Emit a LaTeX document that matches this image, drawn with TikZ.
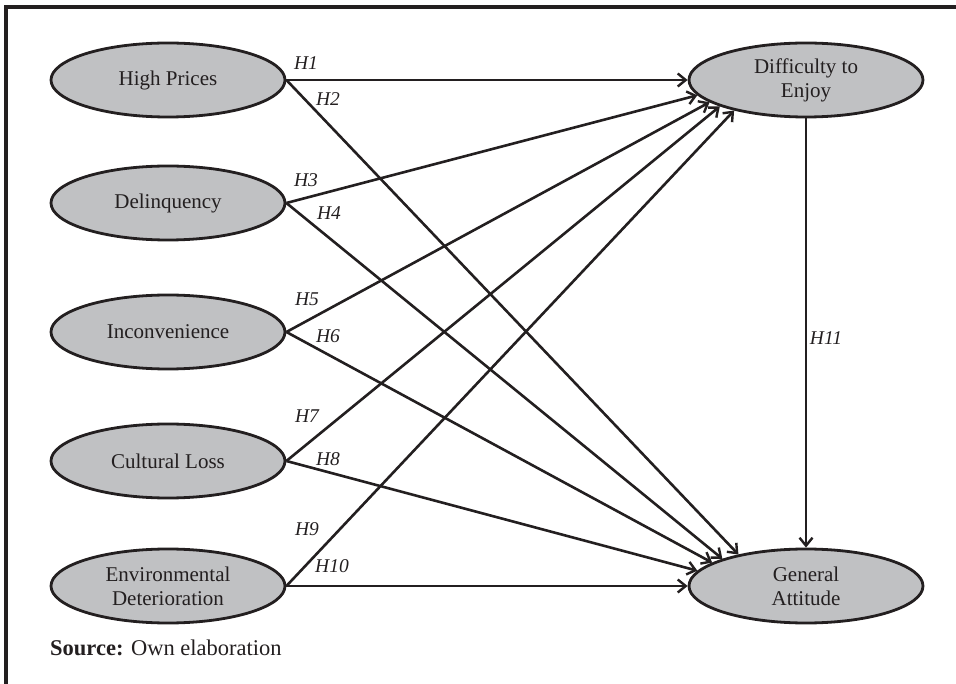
\documentclass[tikz,border=0pt]{standalone}
\usepackage{fontspec}
\setmainfont{Liberation Serif}
\usetikzlibrary{shapes.geometric,arrows.meta}
\definecolor{ovalfill}{RGB}{192,193,195}
\definecolor{ink}{RGB}{35,31,32}
\begin{document}
\begin{tikzpicture}[x=1pt,y=-1pt,
  construct/.style={ellipse,draw=ink,line width=2.8pt,fill=ovalfill,
    minimum width=234pt,minimum height=74pt,inner sep=0pt,align=center,
    font=\fontsize{21}{24}\selectfont,text=ink},
  link/.style={draw=ink,line width=2.6pt,
    -{Straight Barb[length=8pt,width=13pt,line width=2.4pt]}},
  hlabel/.style={font=\fontsize{19.5}{22}\selectfont\itshape,text=ink,inner sep=0pt}]
\useasboundingbox (0,0) rectangle (956,684);
\draw[ink,line width=4pt] (5.5,684) -- (5.5,7.5) -- (956,7.5);

\node[construct] (hp)  at (168,80)  {High Prices};
\node[construct] (del) at (168,203) {Delinquency};
\node[construct] (inc) at (168,332) {Inconvenience};
\node[construct] (cul) at (168,461) {Cultural Loss};
\node[construct] (env) at (168,586) {Environmental\\Deterioration};
\node[construct] (dte) at (806,80)  {Difficulty to\\Enjoy};
\node[construct] (ga)  at (806,586) {General\\Attitude};

\draw[link] (hp.east)  -- (dte.west);
\draw[link] (hp.east)  -- (ga.155.5);
\draw[link] (del.east) -- (dte.188.7);
\draw[link] (del.east) -- (ga.162.8);
\draw[link] (inc.east) -- (dte.193.5);
\draw[link] (inc.east) -- (ga.166.8);
\draw[link] (cul.east) -- (dte.197.8);
\draw[link] (cul.east) -- (ga.172.3);
\draw[link] (env.east) -- (dte.203.8);
\draw[link] (env.east) -- (ga.west);
\draw[link] (dte.south) -- (ga.north);

\node[hlabel] (l1)  at (306,63)  {H1};
\node[hlabel] (l2)  at (328,99)  {H2};
\node[hlabel] (l3)  at (306,180) {H3};
\node[hlabel] (l4)  at (329,213) {H4};
\node[hlabel] (l5)  at (307,299) {H5};
\node[hlabel] (l6)  at (328,336) {H6};
\node[hlabel] (l7)  at (307,416) {H7};
\node[hlabel] (l8)  at (328,459) {H8};
\node[hlabel] (l9)  at (307,529) {H9};
\node[hlabel] (l10) at (332,566) {H10};
\node[hlabel] (l11) at (826,338) {H11};

\node[anchor=base west,inner sep=0pt,font=\fontsize{22.5}{26}\selectfont,text=ink]
  (src) at (50,655) {\textbf{Source:} Own elaboration};
\end{tikzpicture}
\end{document}
